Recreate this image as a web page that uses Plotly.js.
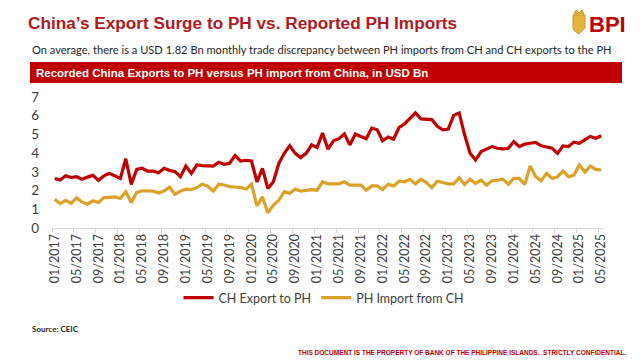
<!DOCTYPE html>
<html><head><meta charset="utf-8">
<script src="https://cdn.plot.ly/plotly-3.0.1.min.js"></script>
<style>html,body{margin:0;padding:0;background:#fff}#c{width:640px;height:360px}</style>
</head><body><div id="c"></div>
<script>
// Months 01/2017 .. 05/2025
const months = [];
for (let y = 2017; y <= 2025; y++) {
  for (let m = 1; m <= 12; m++) {
    if (y === 2025 && m > 5) break;
    months.push((m < 10 ? '0' + m : '' + m) + '/' + y);
  }
}
const chExportToPH = [
  2.65,2.56,2.79,2.70,2.74,2.61,2.72,2.81,2.54,2.79,2.92,2.79,
  2.65,3.70,2.33,3.13,3.19,3.04,3.04,2.95,3.19,3.08,3.01,2.74,
  3.31,2.92,3.37,3.33,3.31,3.31,3.51,3.40,3.46,3.87,3.58,3.62,
  3.58,2.47,3.19,2.11,2.47,3.45,3.99,4.40,3.99,3.76,3.99,4.44,
  4.30,5.07,4.21,4.66,4.77,5.03,4.44,5.02,4.89,4.77,5.34,5.25,
  4.66,4.86,4.75,5.37,5.56,5.88,6.15,5.83,5.83,5.79,5.43,5.25,
  5.29,6.02,6.15,4.98,3.99,3.63,4.08,4.21,4.35,4.26,4.23,4.26,
  4.62,4.35,4.48,4.53,4.57,4.39,4.34,4.26,3.99,4.39,4.35,4.59,
  4.53,4.71,4.89,4.80,4.93
];
const phImportFromCH = [
  1.53,1.30,1.48,1.32,1.61,1.39,1.27,1.45,1.36,1.62,1.64,1.66,
  1.58,1.94,1.36,1.90,1.99,1.99,1.97,1.87,1.97,2.18,1.81,1.97,
  2.08,2.05,2.16,2.34,2.24,1.97,2.34,2.30,2.21,2.19,2.16,2.08,
  2.35,1.18,1.66,0.81,1.21,1.48,1.94,1.85,2.08,1.97,2.02,2.05,
  2.02,2.47,2.36,2.36,2.36,2.47,2.29,2.29,2.29,2.02,2.25,2.25,
  2.05,2.34,2.25,2.50,2.47,2.60,2.36,2.61,2.43,2.16,2.50,2.43,
  2.36,2.36,2.69,2.33,2.61,2.38,2.56,2.29,2.52,2.56,2.61,2.34,
  2.65,2.65,2.33,3.31,2.74,2.52,2.92,2.65,2.74,3.04,2.74,2.83,
  3.37,2.99,3.31,3.13,3.10
];
const seriesNames = ['CH Export to PH', 'PH Import from CH'];
const yTicks = [0,1,2,3,4,5,6,7];

// layout geometry helpers (pixel -> paper)
const L = 52, R = 36, T = 97, B = 132;
const W = 640 - L - R, H = 360 - T - B;
const px = v => (v - L) / W;
const py = v => (360 - B - v) / H;

const RED = '#C00000', GOLD = '#DCA129';
const FONT = 'Lato, "Open Sans", sans-serif';

const traces = [
  {x: months, y: chExportToPH, name: seriesNames[0], type: 'scatter', mode: 'lines',
   line: {color: RED, width: 3.2}},
  {x: months, y: phImportFromCH, name: seriesNames[1], type: 'scatter', mode: 'lines',
   line: {color: GOLD, width: 3.2}}
];

const layout = {
  width: 640, height: 360,
  margin: {l: L, r: R, t: T, b: B},
  paper_bgcolor: '#fff', plot_bgcolor: '#fff',
  font: {family: FONT, color: '#404040'},
  showlegend: true,
  legend: {orientation: 'h', x: px(324), xanchor: 'center', y: py(298), yanchor: 'middle',
           font: {size: 12.5, color: '#404040', family: FONT}, itemwidth: 30, tracegroupgap: 0},
  title: {text: 'China’s Export Surge to PH vs. Reported PH Imports', xref: 'container', yref: 'container',
          x: 28/640, xanchor: 'left', y: 1 - 23/360, yanchor: 'middle',
          font: {family: '"Liberation Sans", Arial, sans-serif', size: 17.2, color: '#B0191E', weight: 'bold'}},
  xaxis: {type: 'category', tickmode: 'linear', tick0: 0, dtick: 4, tickson: 'boundaries',
          range: [-0.5, months.length - 0.5], tickangle: -90, showgrid: false, zeroline: false,
          showline: true, linecolor: '#D9D9D9', linewidth: 1, ticks: 'outside', ticklen: 4, tickcolor: '#D9D9D9',
          tickfont: {size: 12.5, color: '#404040', family: FONT}, fixedrange: true},
  yaxis: {range: [0, 7], tickvals: yTicks, showgrid: false, zeroline: false, showline: false,
          ticks: '', ticklabelstandoff: 12,
          tickfont: {size: 13.5, color: '#404040', family: FONT}, fixedrange: true},
  shapes: [
    {type: 'rect', xref: 'paper', yref: 'paper', x0: px(30), x1: px(622), y0: py(83), y1: py(62),
     fillcolor: RED, line: {width: 0}, layer: 'below'},
    // logo shield
    {type: 'path', xref: 'paper', yref: 'paper',
     path: `M ${px(573)} ${py(15)} L ${px(585)} ${py(15)} L ${px(585)} ${py(28)} Q ${px(579)} ${py(34)} ${px(579)} ${py(34)} Q ${px(573)} ${py(31)} ${px(573)} ${py(28)} Z`,
     fillcolor: '#E4B63C', line: {color: '#C9962A', width: 1}},
    {type: 'path', xref: 'paper', yref: 'paper',
     path: `M ${px(574)} ${py(14)} L ${px(576)} ${py(10)} L ${px(579)} ${py(13)} L ${px(582)} ${py(10)} L ${px(584)} ${py(14)} Z`,
     fillcolor: '#E4B63C', line: {color: '#C9962A', width: 1}}
  ],
  annotations: [
    {xref: 'paper', yref: 'paper', x: px(30), y: py(49), xanchor: 'left', yanchor: 'middle', showarrow: false,
     text: 'On average, there is a USD 1.82 Bn monthly trade discrepancy between PH imports from CH and CH exports to the PH',
     font: {size: 11.1, color: '#262626', family: FONT}},
    {xref: 'paper', yref: 'paper', x: px(34), y: py(72.5), xanchor: 'left', yanchor: 'middle', showarrow: false,
     text: '<b>Recorded China Exports to PH versus PH import from China, in USD Bn</b>',
     font: {size: 11.5, color: '#ffffff', family: '"Liberation Sans Narrow", "Liberation Sans", Arial, sans-serif'}},
    {xref: 'paper', yref: 'paper', x: px(587), y: py(24), xanchor: 'left', yanchor: 'middle', showarrow: false,
     text: '<b>BPI</b>', font: {size: 22, color: RED, family: '"Liberation Sans", Arial, sans-serif'}},
    {xref: 'paper', yref: 'paper', x: px(30), y: py(329), xanchor: 'left', yanchor: 'middle', showarrow: false,
     text: '<b>Source: CEIC</b>', font: {size: 8, color: '#262626', family: FONT}},
    {xref: 'paper', yref: 'paper', x: px(628), y: py(352), xanchor: 'right', yanchor: 'middle', showarrow: false,
     text: '<b>THIS DOCUMENT IS THE PROPERTY OF BANK OF THE PHILIPPINE ISLANDS.  STRICTLY CONFIDENTIAL.</b>',
     font: {size: 6.5, color: RED, family: '"Liberation Sans", Arial, sans-serif'}}
  ]
};

Plotly.newPlot('c', traces, layout, {displayModeBar: false, staticPlot: true});
</script>
</body></html>
